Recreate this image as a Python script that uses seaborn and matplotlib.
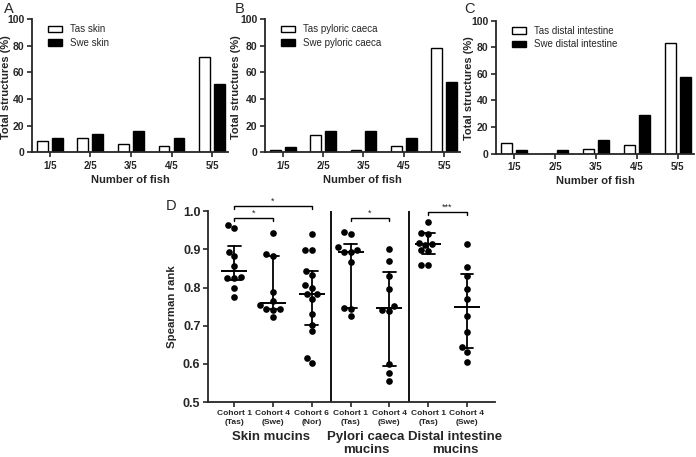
import numpy as np
import pandas as pd
import matplotlib
matplotlib.use("Agg")
import matplotlib.pyplot as plt
import matplotlib.transforms as mtransforms
import seaborn as sns

# ---------------- data ----------------
fish_levels = ["1/5", "2/5", "3/5", "4/5", "5/5"]

skin_tas = [8.5, 10.8, 6.5, 4.5, 71.7]
skin_swe = [11.0, 13.3, 16.0, 11.0, 51.6]
pc_tas = [2.0, 13.0, 2.0, 4.5, 78.2]
pc_swe = [3.8, 16.3, 16.3, 11.0, 53.1]
di_tas = [8.0, 0.0, 3.3, 6.5, 83.0]
di_swe = [2.5, 2.5, 10.3, 28.8, 57.4]

panel_series = [
    ("A", "Tas skin", skin_tas, "Swe skin", skin_swe),
    ("B", "Tas pyloric caeca", pc_tas, "Swe pyloric caeca", pc_swe),
    ("C", "Tas distal intestine", di_tas, "Swe distal intestine", di_swe),
]

cohort_labels = ["Cohort 1\n(Tas)", "Cohort 4\n(Swe)", "Cohort 6\n(Nor)",
                 "Cohort 1\n(Tas)", "Cohort 4\n(Swe)",
                 "Cohort 1\n(Tas)", "Cohort 4\n(Swe)"]
cohort_keys = ["skin_c1", "skin_c4", "skin_c6", "pc_c1", "pc_c4", "di_c1", "di_c4"]

skin_c1 = [0.963, 0.957, 0.894, 0.882, 0.856, 0.828, 0.825, 0.825, 0.800, 0.776]
skin_c4 = [0.943, 0.889, 0.882, 0.788, 0.764, 0.755, 0.745, 0.745, 0.741, 0.723]
skin_c6 = [0.941, 0.897, 0.897, 0.843, 0.832, 0.806, 0.798, 0.782, 0.782, 0.770,
           0.730, 0.703, 0.685, 0.616, 0.603]
pc_c1 = [0.946, 0.941, 0.905, 0.898, 0.894, 0.894, 0.867, 0.747, 0.743, 0.725]
pc_c4 = [0.901, 0.869, 0.831, 0.797, 0.751, 0.741, 0.739, 0.601, 0.576, 0.556]
di_c1 = [0.972, 0.943, 0.941, 0.917, 0.914, 0.912, 0.898, 0.896, 0.860, 0.859]
di_c4 = [0.914, 0.853, 0.830, 0.795, 0.771, 0.725, 0.683, 0.645, 0.632, 0.606]
spearman = [skin_c1, skin_c4, skin_c6, pc_c1, pc_c4, di_c1, di_c4]

group_labels = ["Skin mucins", "Pylori caeca\nmucins", "Distal intestine\nmucins"]

# significance comparisons: (index a, index b, label)
comparisons = [(0, 2, "*"), (0, 1, "*"), (3, 4, "*"), (5, 6, "***")]

# ---------------- style ----------------
sns.set_theme(style="ticks")
plt.rcParams["font.family"] = ["Liberation Sans", "DejaVu Sans"]
plt.rcParams["axes.linewidth"] = 1.3
plt.rcParams["xtick.major.width"] = 1.2
plt.rcParams["ytick.major.width"] = 1.2
plt.rcParams["xtick.major.size"] = 3.5
plt.rcParams["ytick.major.size"] = 3.5
plt.rcParams["xtick.major.pad"] = 2.5
plt.rcParams["ytick.major.pad"] = 2

fig = plt.figure(figsize=(6.96, 4.57), dpi=100)

positions = [[0.046, 0.667, 0.282, 0.291],
             [0.381, 0.667, 0.280, 0.291],
             [0.713, 0.664, 0.284, 0.291]]
letter_x = [0.006, 0.338, 0.667]
ylabel_x = [-0.108, -0.125, -0.115]

for (letter, tas_name, tas_vals, swe_name, swe_vals), pos, lx, ylx in zip(
        panel_series, positions, letter_x, ylabel_x):
    ax = fig.add_axes(pos)
    df = pd.DataFrame({
        "fish": fish_levels * 2,
        "pct": list(tas_vals) + list(swe_vals),
        "group": [tas_name] * 5 + [swe_name] * 5,
    })
    sns.barplot(data=df, x="fish", y="pct", hue="group", order=fish_levels,
                hue_order=[tas_name, swe_name],
                palette={tas_name: "white", swe_name: "black"},
                edgecolor="black", linewidth=1.0, width=0.74, gap=0.27,
                saturation=1, ax=ax)
    ax.set_xlim(-0.44, 4.4)
    ax.set_ylim(0, 100)
    ax.set_yticks([0, 20, 40, 60, 80, 100])
    ax.set_xlabel("Number of fish", fontsize=8, fontweight="bold", labelpad=3)
    ax.set_ylabel("Total structures (%)", fontsize=8, fontweight="bold")
    ax.yaxis.set_label_coords(ylx, 0.49)
    for t in ax.get_xticklabels():
        t.set_fontsize(7)
        t.set_fontweight("bold")
    for t in ax.get_yticklabels():
        t.set_fontsize(7.5)
        t.set_fontweight("bold")
    sns.despine(ax=ax)
    ax.legend(loc="upper left", bbox_to_anchor=(0.06, 0.99), frameon=False,
              fontsize=7, handlelength=1.45, handleheight=0.65,
              handletextpad=0.8, labelspacing=0.35, borderaxespad=0)
    fig.text(lx, 0.995, letter, fontsize=10.5, va="top", ha="left")

# ---------------- panel D ----------------
axd = fig.add_axes([0.299, 0.120, 0.412, 0.418])
dfd = pd.DataFrame({
    "cohort": [k for k, vals in zip(cohort_keys, spearman) for _ in vals],
    "rho": [v for vals in spearman for v in vals],
})

sns.swarmplot(data=dfd, x="cohort", y="rho", order=cohort_keys, color="black",
              size=4.8, ax=axd, zorder=3)


def iqr_graphpad(v):
    return (np.percentile(v, 25, method="weibull"), np.percentile(v, 75, method="weibull"))


sns.pointplot(data=dfd, x="cohort", y="rho", order=cohort_keys, color="black",
              estimator=np.median, errorbar=iqr_graphpad, linestyle="none",
              marker="_", markersize=19, markeredgewidth=1.4, capsize=0.33,
              err_kws={"linewidth": 1.3}, ax=axd, zorder=4)

axd.set_xlim(-0.67, 6.72)
axd.set_ylim(0.5, 1.0)
axd.set_yticks([0.5, 0.6, 0.7, 0.8, 0.9, 1.0])
axd.set_yticklabels([f"{v:.1f}" for v in [0.5, 0.6, 0.7, 0.8, 0.9, 1.0]],
                    fontsize=9, fontweight="bold")
axd.set_xticks(range(len(cohort_labels)))
axd.set_xticklabels(cohort_labels, fontsize=6, fontweight="bold", linespacing=1.25)
axd.set_xlabel("")
axd.set_ylabel("Spearman rank", fontsize=8.2, fontweight="bold", labelpad=4)
sns.despine(ax=axd)

for xsep in (2.5, 4.5):
    axd.axvline(xsep, color="black", linewidth=1.3, zorder=2)

bracket_y = [1.013, 0.983, 0.982, 0.997]
for (a, b, lab), yb in zip(comparisons, bracket_y):
    axd.plot([a, a, b, b], [yb - 0.008, yb, yb, yb - 0.008], color="black",
             linewidth=1.0, clip_on=False)
    axd.text((a + b) / 2, yb + 0.001, lab, ha="center", va="bottom", fontsize=6.5)

trans = mtransforms.blended_transform_factory(axd.transData, axd.transAxes)
group_x = [0.94, 3.4, 5.7]
for gx, gl in zip(group_x, group_labels):
    axd.text(gx, -0.15, gl, transform=trans, ha="center", va="top",
             fontsize=9.5, fontweight="bold", linespacing=1.1)

fig.text(0.238, 0.565, "D", fontsize=10.5, va="top", ha="left")

fig.savefig("out.png", dpi=100)
